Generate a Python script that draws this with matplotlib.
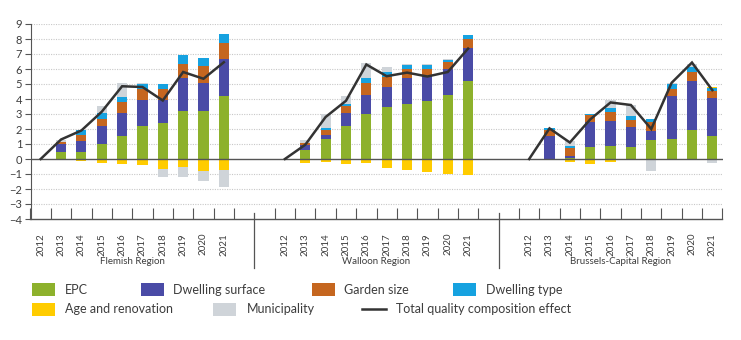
import matplotlib
matplotlib.use("Agg")
import matplotlib.pyplot as plt
import matplotlib.transforms as mtransforms
from matplotlib.patches import Rectangle
from matplotlib.lines import Line2D
import numpy as np

plt.rcParams['font.family'] = ['Lato', 'DejaVu Sans']

# ---------------- data ----------------
years = ["2012", "2013", "2014", "2015", "2016", "2017", "2018", "2019", "2020", "2021"]
regions = ["Flemish Region", "Walloon Region", "Brussels-Capital Region"]

# values per region (Flemish, Walloon, Brussels), 2012..2021
epc = [0, 0.45, 0.44, 1.00, 1.53, 2.17, 2.37, 3.22, 3.22, 4.17,
       0, 0.58, 1.33, 2.17, 3.00, 3.44, 3.70, 3.88, 4.30, 5.21,
       0, 0.02, 0.07, 0.82, 0.84, 0.82, 1.24, 1.33, 1.93, 1.53]
dwelling_surface = [0, 0.55, 0.74, 1.17, 1.57, 1.75, 1.58, 2.17, 1.88, 2.48,
                    0, 0.35, 0.29, 0.93, 1.30, 1.39, 1.69, 1.66, 1.73, 2.22,
                    0, 1.53, 0.13, 1.62, 1.71, 1.29, 0.64, 2.88, 3.24, 2.53]
garden_size = [0, 0.15, 0.42, 0.53, 0.67, 0.74, 0.71, 0.93, 1.10, 1.07,
               0, 0.11, 0.33, 0.43, 0.76, 0.67, 0.61, 0.45, 0.44, 0.55,
               0, 0.38, 0.51, 0.51, 0.60, 0.49, 0.58, 0.47, 0.66, 0.49]
dwelling_type = [0, 0.00, 0.35, 0.34, 0.38, 0.33, 0.37, 0.58, 0.52, 0.60,
                 0, 0.04, 0.15, 0.15, 0.35, 0.29, 0.25, 0.28, 0.13, 0.29,
                 0, 0.17, 0.15, 0.02, 0.22, 0.24, 0.22, 0.31, 0.31, 0.17]
age_renovation = [0, -0.02, -0.13, -0.24, -0.35, -0.38, -0.67, -0.55, -0.80, -0.73,
                  0, -0.24, -0.20, -0.31, -0.27, -0.62, -0.71, -0.86, -1.02, -1.04,
                  0, 0.00, -0.20, -0.31, -0.18, 0.00, 0.00, 0.00, 0.00, 0.07]
municipality = [0, 0.12, 0.00, 0.51, 0.95, 0.06, -0.55, -0.67, -0.64, -1.11,
                0, 0.18, 0.90, 0.49, 1.02, 0.31, 0.11, 0.05, 0.10, 0.00,
                0, 0.00, 0.36, 0.00, 0.58, 0.77, -0.80, 0.05, 0.20, -0.29]
total_effect = [0, 1.30, 1.90, 3.15, 4.85, 4.80, 3.90, 5.80, 5.35, 6.45,
                0, 0.95, 2.80, 3.88, 6.30, 5.52, 5.76, 5.50, 5.80, 7.36,
                0, 2.04, 1.10, 2.64, 3.77, 3.60, 2.00, 5.08, 6.43, 4.59]

series_names = ["EPC", "Dwelling surface", "Garden size", "Dwelling type",
                "Age and renovation", "Municipality"]
line_name = "Total quality composition effect"

# ---------------- style ----------------
colors = ["#8DB12C", "#4A4BA6", "#C5661F", "#16A2E0", "#FFCC00", "#CFD4D9"]
line_color = "#333333"
text_color = "#3d3d3d"

W, H = 741, 340
fig = plt.figure(figsize=(W / 100, H / 100), dpi=100)
ax = fig.add_axes([30.5 / W, 1 - 219 / H, 692 / W, 195 / H])

region_offsets = [0, 12, 24]
n = len(years)
x = np.concatenate([off + np.arange(n) for off in region_offsets])

all_series = [epc, dwelling_surface, garden_size, dwelling_type, age_renovation, municipality]
pos_base = np.zeros(len(x))
neg_base = np.zeros(len(x))
for vals, col in zip(all_series, colors):
    v = np.array(vals, dtype=float)
    pos = np.where(v > 0, v, 0)
    neg = np.where(v < 0, v, 0)
    ax.bar(x, pos, bottom=pos_base, width=0.5, color=col, linewidth=0, zorder=3)
    ax.bar(x, neg, bottom=neg_base, width=0.5, color=col, linewidth=0, zorder=3)
    pos_base += pos
    neg_base += neg

tot = np.array(total_effect, dtype=float)
for i in range(len(regions)):
    sl = slice(i * n, (i + 1) * n)
    ax.plot(x[sl], tot[sl], color=line_color, lw=1.8, zorder=5, solid_joinstyle='miter')

ax.set_xlim(-0.5, 33.5)
ax.set_ylim(-4, 9)
ax.set_yticks(range(-4, 10))
ax.tick_params(axis='y', length=4, width=0.8, color='#555555', labelsize=8,
               labelcolor=text_color, pad=2)
for yv in range(-3, 10):
    if yv == 0:
        continue
    ax.axhline(yv, color='#c8c8c8', lw=0.8, linestyle=(0, (1, 1.2)), zorder=1)
ax.axhline(0, color='#555555', lw=1.0, zorder=4)

for s in ['top', 'right']:
    ax.spines[s].set_visible(False)
ax.spines['left'].set_color('#555555')
ax.spines['bottom'].set_color('#555555')
ax.spines['left'].set_linewidth(0.8)
ax.spines['bottom'].set_linewidth(1.0)

ax.set_xticks(x)
ax.set_xticklabels(years * len(regions), rotation=90, fontsize=7, color=text_color)
ax.tick_params(axis='x', which='major', length=0, pad=10)
minor = list(np.arange(-0.5, 10, 1)) + list(np.arange(11.5, 22, 1)) + list(np.arange(23.5, 34, 1))
ax.set_xticks(minor, minor=True)
ax.tick_params(axis='x', which='minor', direction='in', length=8, width=0.8, color='#555555')

trans = mtransforms.blended_transform_factory(ax.transData, ax.transAxes)
for sep in [10.5, 22.5]:
    ax.plot([sep, sep], [(219 - 213) / 195, -(268 - 219) / 195], transform=trans,
            color='#555555', lw=0.9, clip_on=False)

for i, r in enumerate(regions):
    cx = region_offsets[i] + (n - 1) / 2
    ax.text(cx, -(262 - 219) / 195, r, transform=trans, ha='center', va='center',
            fontsize=7, color=text_color)

# ---------------- legend (manual) ----------------
def fx(px):
    return px / W

def fy(py):
    return 1 - py / H

row1, row2 = 289.5, 309
legend_items = [
    (0, 32, 65, row1), (1, 141, 173, row1), (2, 312, 344, row1), (3, 453, 486, row1),
    (4, 32, 65, row2), (5, 213, 247, row2),
]
for idx, sx, tx, ry in legend_items:
    fig.patches.append(Rectangle((fx(sx), fy(ry + 6.5)), 23 / W, 13 / H,
                                 transform=fig.transFigure, color=colors[idx], lw=0))
    fig.text(fx(tx), fy(ry), series_names[idx], fontsize=9, color=text_color,
             ha='left', va='center')
fig.lines.append(Line2D([fx(362), fx(386)], [fy(row2), fy(row2)],
                        transform=fig.transFigure, color=line_color, lw=1.8))
fig.text(fx(396), fy(row2), line_name, fontsize=9, color=text_color, ha='left', va='center')

fig.savefig("out.png", dpi=100)
